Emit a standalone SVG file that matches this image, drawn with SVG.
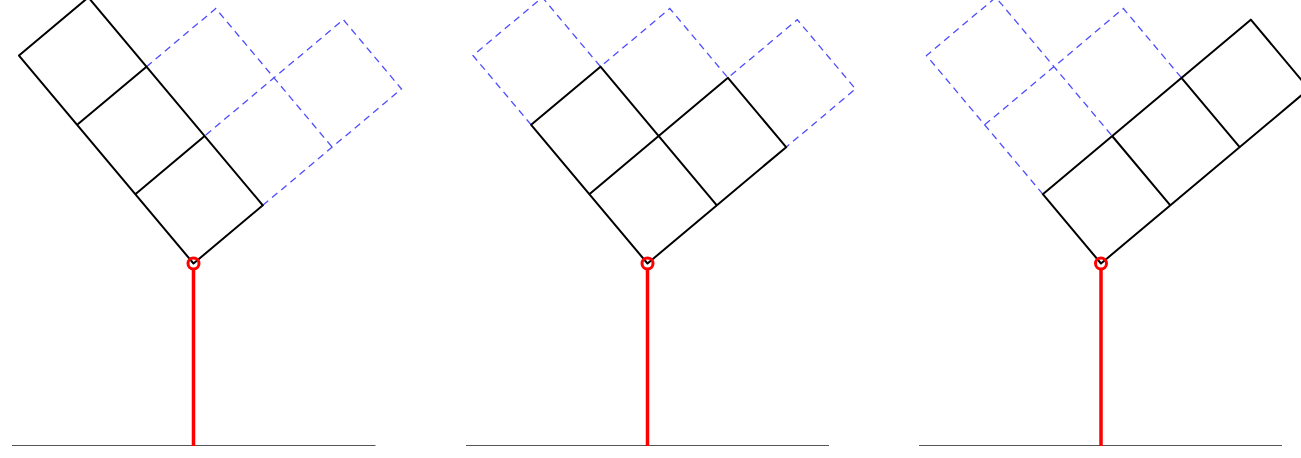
<svg xmlns="http://www.w3.org/2000/svg" width="1301" height="458" viewBox="0 0 1301 458">
<style>
.blk{fill:none;stroke:#000;stroke-width:2;stroke-linecap:round;stroke-linejoin:round}
.dsh{fill:none;stroke:#4d4dff;stroke-width:1.3;stroke-dasharray:7,5}
.rod{stroke:#ff0000;stroke-width:3.5}
.piv{fill:none;stroke:#ff0000;stroke-width:3}
.gnd{stroke:#555;stroke-width:1.2}
</style>
<rect width="1301" height="458" fill="#fff"/>
<g id="connectors">
<line class="gnd" x1="12" y1="445.5" x2="375.5" y2="445.5"/>
<line class="gnd" x1="466" y1="445.5" x2="829" y2="445.5"/>
<line class="gnd" x1="919" y1="445.5" x2="1282" y2="445.5"/>
<line class="rod" x1="193.5" y1="269" x2="193.5" y2="446"/>
<line class="rod" x1="647.5" y1="269" x2="647.5" y2="446"/>
<line class="rod" x1="1101" y1="269" x2="1101" y2="446"/>
</g>
<g id="panel1" transform="translate(193.5,263.5) rotate(-40)">
<path class="dsh" d="M90.5,-181 L181,-181 L181,0 M90.5,0 L271.5,0 L271.5,-90.5 L90.5,-90.5"/>
<path class="blk" d="M0,0 L90.5,0 L90.5,-271.5 L0,-271.5 Z M0,-90.5 L90.5,-90.5 M0,-181 L90.5,-181"/>
</g>
<g id="panel2" transform="translate(647.5,263.5) rotate(-40)">
<path class="dsh" d="M0,-181 L0,-271.5 L90.5,-271.5 L90.5,-181 L181,-181 L181,-90.5 L271.5,-90.5 L271.5,0 L181,0"/>
<path class="blk" d="M0,0 L181,0 L181,-90.5 L0,-90.5 M0,0 L0,-181 L90.5,-181 L90.5,0"/>
</g>
<g id="panel3" transform="translate(1101,263.5) rotate(-40)">
<path class="dsh" d="M0,-90.5 L0,-271.5 L90.5,-271.5 L90.5,-90.5 M0,-181 L181,-181 L181,-90.5"/>
<path class="blk" d="M0,0 L271.5,0 L271.5,-90.5 L0,-90.5 Z M90.5,0 L90.5,-90.5 M181,0 L181,-90.5"/>
</g>
<g id="pivots">
<circle class="piv" cx="193.5" cy="263.5" r="5.5"/>
<circle class="piv" cx="647.5" cy="263.5" r="5.5"/>
<circle class="piv" cx="1101" cy="263.5" r="5.5"/>
</g>
</svg>
